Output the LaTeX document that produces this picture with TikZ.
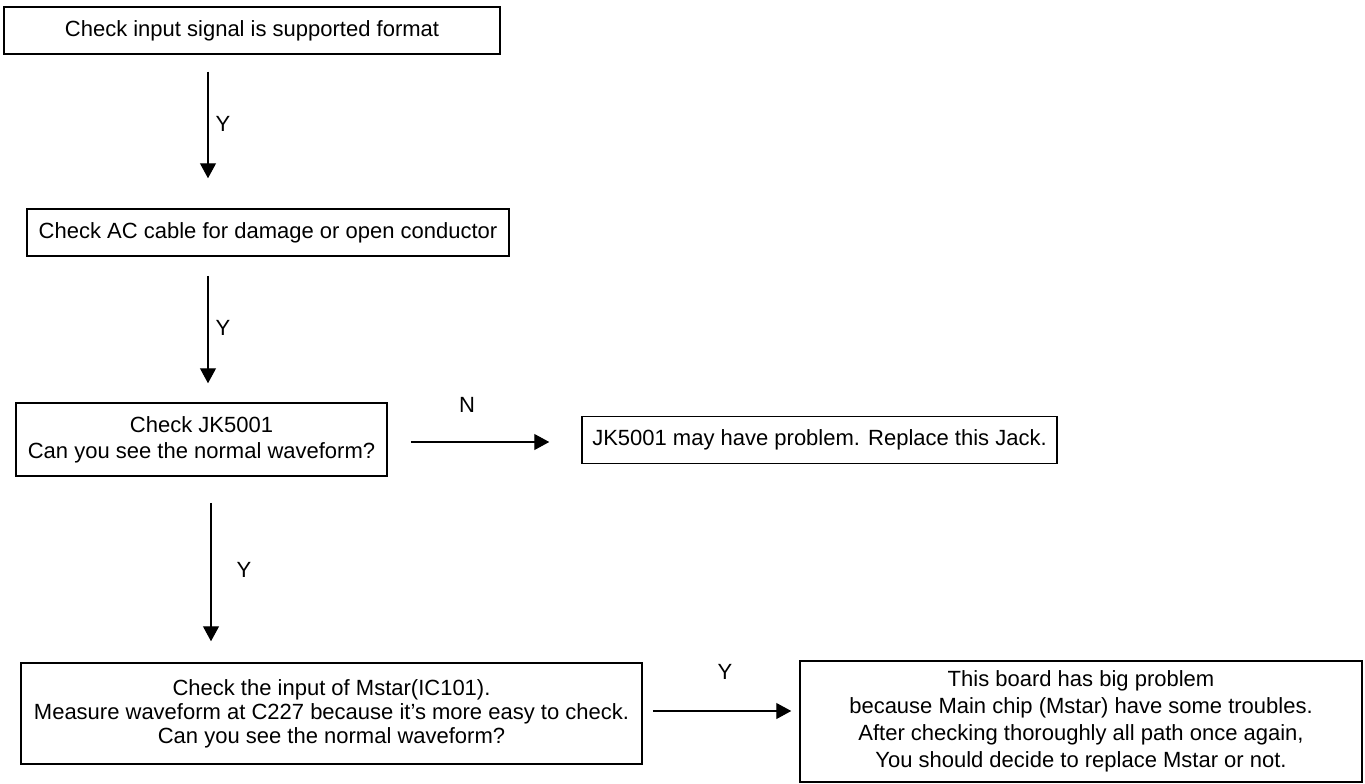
\documentclass[tikz,border=0pt]{standalone}
\usepackage{fontspec}
\setmainfont{Liberation Sans}
\usetikzlibrary{arrows.meta}
\begin{document}
\begin{tikzpicture}[x=1pt,y=-1pt,
  box/.style={draw=black, line width=1.5pt, inner sep=0pt, align=center, font=\fontsize{22}{26}\selectfont},
  conn/.style={line width=1.2pt, -{Triangle[length=15pt,width=16pt]}},
  lbl/.style={inner sep=0pt, font=\fontsize{22}{26}\selectfont}]
\useasboundingbox (0,0) rectangle (1365,784);
\node[box, minimum width=496pt, minimum height=47pt] (b1) at (252,30.5) {Check input signal is supported format};
\node[box, minimum width=482pt, minimum height=47pt] (b2) at (268,232.5) {Check AC cable for damage or open conductor};
\node[box, minimum width=371pt, minimum height=73pt] (b3) at (201.5,439.5) {Check JK5001\\Can you see the normal waveform?};
\node[box, minimum width=475pt, minimum height=47pt] (b4) at (819.5,440) {JK5001 may have problem. Replace this Jack.};
\node[box, minimum width=621pt, minimum height=101pt, font=\fontsize{22}{24}\selectfont] (b5) at (331.5,713.5) {Check the input of Mstar(IC101).\\Measure waveform at C227 because it’s more easy to check.\\Can you see the normal waveform?};
\node[box, minimum width=562pt, minimum height=121pt, font=\fontsize{22}{27}\selectfont] (b6) at (1081,721.5) {This board has big problem\\because Main chip (Mstar) have some troubles.\\After checking thoroughly all path once again,\\You should decide to replace Mstar or not.};
\coordinate (c1) at (208,0);
\coordinate (c3) at (211,0);
\coordinate (cn) at (0,442);
\coordinate (cy) at (0,711);
\draw[conn, shorten <=17pt, shorten >=30pt] (b1.south -| c1) -- (b2.north -| c1);
\draw[conn, shorten <=19pt, shorten >=19pt] (b2.south -| c1) -- (b3.north -| c1);
\draw[conn, shorten <=26pt, shorten >=21pt] (b3.south -| c3) -- (b5.north -| c3);
\draw[conn, shorten <=23pt, shorten >=32pt] (b3.east |- cn) -- (b4.west |- cn);
\draw[conn, shorten <=10pt, shorten >=8pt] (b5.east |- cy) -- (b6.west |- cy);
\node[lbl] (y1) at (223,124) {Y};
\node[lbl] (y2) at (223,328) {Y};
\node[lbl] (y3) at (244,570) {Y};
\node[lbl] (n1) at (467,405) {N};
\node[lbl] (y4) at (725,672) {Y};
\end{tikzpicture}
\end{document}
